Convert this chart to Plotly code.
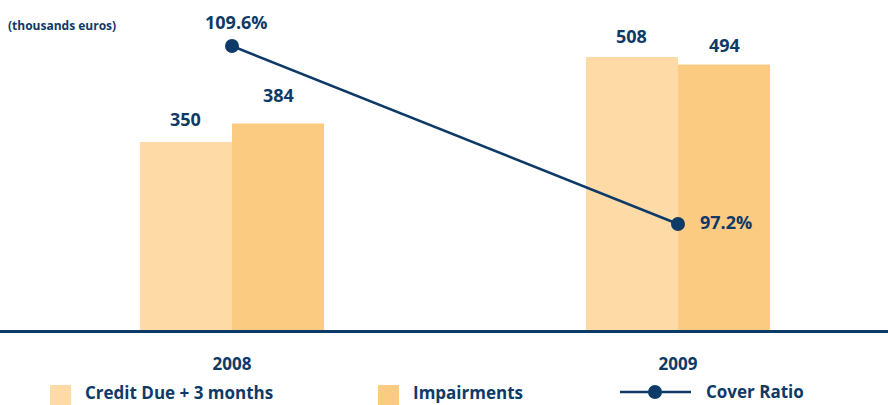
import plotly.graph_objects as go

# ---- data ----
years = ["2008", "2009"]
credit_due = [350, 508]
impairments = [384, 494]
cover_ratio = [109.6, 97.2]
cover_labels = ["109.6%", "97.2%"]
series_names = ["Credit Due + 3 months", "Impairments", "Cover Ratio"]
unit_note = "(thousands euros)"

# ---- style ----
W, H = 888, 405
PLOT_BOTTOM = 330  # pixel row of the x axis
NAVY = "#0E3A68"
C_LIGHT = "#FDDAA6"
C_DARK = "#FCCB82"
FONT = "Open Sans"
BARGAP = 0.587
BAR_W = (1 - BARGAP) / 2
SHIFT_A = [23, 21]   # label lift above bars (pixels)
SHIFT_B = [29, 20]


def px_x(p):
    return p / W


def px_y(p):
    return (PLOT_BOTTOM - p) / PLOT_BOTTOM


fig = go.Figure()
fig.add_trace(go.Bar(x=years, y=credit_due, name=series_names[0],
                     marker=dict(color=C_LIGHT, line=dict(width=0)),
                     showlegend=False, hoverinfo="skip"))
fig.add_trace(go.Bar(x=years, y=impairments, name=series_names[1],
                     marker=dict(color=C_DARK, line=dict(width=0)),
                     showlegend=False, hoverinfo="skip"))
fig.add_trace(go.Scatter(x=years, y=cover_ratio, name=series_names[2], yaxis="y2",
                         mode="lines+markers",
                         line=dict(color=NAVY, width=2.5),
                         marker=dict(color=NAVY, size=14),
                         showlegend=False, hoverinfo="skip", cliponaxis=False))

annotations = []
lab_font = dict(family=FONT, size=18, color=NAVY, weight=700)
for i, (a, b) in enumerate(zip(credit_due, impairments)):
    annotations.append(dict(x=i - BAR_W / 2, y=a, xref="x", yref="y", text=str(a),
                            showarrow=False, yanchor="middle", yshift=SHIFT_A[i], font=lab_font))
    annotations.append(dict(x=i + BAR_W / 2, y=b, xref="x", yref="y", text=str(b),
                            showarrow=False, yanchor="middle", yshift=SHIFT_B[i], font=lab_font))

# cover ratio labels: first above the marker, second to the right
annotations.append(dict(x=0, y=cover_ratio[0], xref="x", yref="y2", text=cover_labels[0],
                        showarrow=False, yanchor="middle", yshift=24, xshift=4, font=lab_font))
annotations.append(dict(x=1, y=cover_ratio[1], xref="x", yref="y2", text=cover_labels[1],
                        showarrow=False, xanchor="left", yanchor="middle", xshift=20, yshift=2,
                        font=lab_font))

annotations.append(dict(x=px_x(6), y=px_y(25), xref="paper", yref="paper", text=unit_note,
                        showarrow=False, xanchor="left", yanchor="middle",
                        font=dict(family=FONT, size=12, color=NAVY, weight=700)))

# custom legend
leg_font = dict(family=FONT, size=17, color=NAVY, weight=700)
shapes = [
    dict(type="rect", xref="paper", yref="paper", x0=px_x(50), x1=px_x(71),
         y0=px_y(385), y1=px_y(407), fillcolor=C_LIGHT, line=dict(width=0)),
    dict(type="rect", xref="paper", yref="paper", x0=px_x(378), x1=px_x(399),
         y0=px_y(385), y1=px_y(407), fillcolor=C_DARK, line=dict(width=0)),
    dict(type="line", xref="paper", yref="paper", x0=px_x(620), x1=px_x(691),
         y0=px_y(392), y1=px_y(392), line=dict(color=NAVY, width=2.5)),
    dict(type="circle", xref="paper", yref="paper", x0=px_x(648), x1=px_x(662),
         y0=px_y(385), y1=px_y(399), fillcolor=NAVY, line=dict(width=0)),
]
for name, lx, ly in zip(series_names, [83, 411, 704], [392, 392, 391]):
    annotations.append(dict(x=px_x(lx), y=px_y(ly), xref="paper", yref="paper", text=name,
                            showarrow=False, xanchor="left", yanchor="middle", font=leg_font))

fig.update_layout(
    width=W, height=H,
    margin=dict(l=0, r=0, t=0, b=H - PLOT_BOTTOM, pad=0),
    paper_bgcolor="white", plot_bgcolor="white",
    barmode="group", bargap=BARGAP, bargroupgap=0,
    showlegend=False,
    xaxis=dict(type="category", range=[-0.5202, 1.4709], showgrid=False, zeroline=False,
               showline=True, linecolor=NAVY, linewidth=2.5, ticks="",
               tickfont=dict(family=FONT, size=17, color=NAVY, weight=700),
               ticklabelstandoff=17, fixedrange=True),
    yaxis=dict(range=[0, 614], visible=False, fixedrange=True),
    yaxis2=dict(range=[89.816, 112.805], overlaying="y", side="right", visible=False,
                fixedrange=True),
    annotations=annotations,
    shapes=shapes,
)

fig.write_html("out.html")
